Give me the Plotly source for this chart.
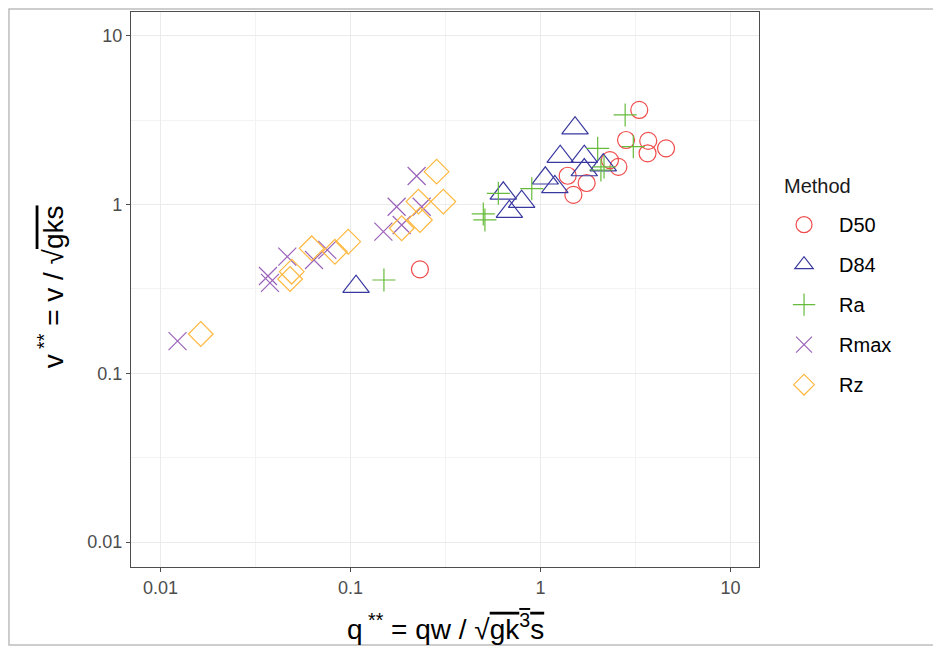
import plotly.graph_objects as go

# ---- data ----
d50_q = [3.31, 2.82, 3.69, 3.66, 4.58, 2.32, 2.57, 1.39, 1.75, 1.49, 0.232]
d50_v = [3.63, 2.41, 2.38, 2.01, 2.15, 1.83, 1.67, 1.48, 1.34, 1.14, 0.413]

d84_q = [1.52, 1.27, 1.70, 1.70, 2.14, 1.06, 1.19, 0.637, 0.796, 0.686, 0.107]
d84_v = [2.83, 1.92, 1.92, 1.60, 1.71, 1.43, 1.27, 1.165, 1.04, 0.906, 0.326]

ra_q = [2.79, 3.08, 2.00, 2.16, 2.08, 0.90, 0.60, 0.50, 0.51, 0.150]
ra_v = [3.39, 2.20, 2.15, 1.67, 1.60, 1.24, 1.165, 0.879, 0.81, 0.357]

rmax_q = [0.0123, 0.0368, 0.0377, 0.0465, 0.0643, 0.0755, 0.149, 0.186, 0.175, 0.237, 0.223]
rmax_v = [0.155, 0.377, 0.343, 0.491, 0.469, 0.538, 0.690, 0.756, 0.970, 0.970, 1.475]

rz_q = [0.0163, 0.0491, 0.0481, 0.0625, 0.0828, 0.0973, 0.186, 0.232, 0.228, 0.308, 0.284]
rz_v = [0.171, 0.400, 0.362, 0.550, 0.525, 0.602, 0.723, 0.809, 1.04, 1.04, 1.565]

methods = ["D50", "D84", "Ra", "Rmax", "Rz"]
tick_vals = [0.01, 0.1, 1, 10]
tick_text = ["0.01", "0.1", "1", "10"]
minor_vals = [10 ** (k + 0.5) for k in range(-3, 2)]

series = [
    (d50_q, d50_v, "circle-open", "#F04B4B", 17),
    (d84_q, d84_v, "triangle-up-open", "#3838A0", 23),
    (ra_q, ra_v, "cross-thin-open", "#66BB3C", 16.5),
    (rmax_q, rmax_v, "x-thin-open", "#9A62B8", 18),
    (rz_q, rz_v, "diamond-open", "#FFB83F", 19),
]

fig = go.Figure()
for name, (xs, ys, sym, col, sz) in zip(methods, series):
    fig.add_trace(go.Scatter(
        x=xs, y=ys, mode="markers", name=name, legendgroup=name,
        marker=dict(symbol=sym, size=sz, color=col, line=dict(color=col, width=1.2)),
    ))

font_fam = "Liberation Sans, Arial, sans-serif"

axis_common = dict(
    type="log",
    tickvals=tick_vals, ticktext=tick_text,
    ticks="outside", ticklen=4, tickcolor="#4D4D4D", tickwidth=1,
    showline=True, linecolor="#4D4D4D", linewidth=1.3, mirror=True,
    showgrid=True, gridcolor="#EBEBEB", gridwidth=1,
    zeroline=False,
    tickfont=dict(family=font_fam, size=18, color="#4D4D4D"),
    minor=dict(tickvals=minor_vals, showgrid=True, gridcolor="#F3F3F3", gridwidth=0.7, ticks=""),
)

fig.update_xaxes(range=[-2.155, 1.150], **axis_common)
fig.update_yaxes(range=[-2.147, 1.140], **axis_common)

fig.add_annotation(
    x=0.5, y=-0.108, xref="paper", yref="paper", xanchor="center", yanchor="middle",
    showarrow=False,
    text="q<sup> **</sup> = qw / √<span style='text-decoration:overline'>gk<sup>3</sup>s</span>",
    font=dict(family=font_fam, size=28, color="#000000"),
)
fig.add_annotation(
    x=-0.128, y=0.505, xref="paper", yref="paper", xanchor="center", yanchor="middle",
    showarrow=False, textangle=-90,
    text="v<sup> **</sup> = v / √<span style='text-decoration:overline'>gks</span>",
    font=dict(family=font_fam, size=28, color="#000000"),
)
fig.add_annotation(
    x=1.036, y=0.6865, xref="paper", yref="paper", xanchor="left", yanchor="middle",
    showarrow=False, text="Method",
    font=dict(family=font_fam, size=20, color="#1A1A1A"),
)

# outer frame
fig.add_shape(type="rect", xref="paper", yref="paper",
              x0=-0.1943, x1=1.2834, y0=-0.1405, y1=1.0054,
              line=dict(color="#BDBDBD", width=1.5), layer="below")

fig.update_layout(
    width=933, height=642,
    margin=dict(l=123, r=182, t=4, b=83),
    paper_bgcolor="white", plot_bgcolor="white",
    font=dict(family=font_fam, color="#000000"),
    legend=dict(
        x=1.016, y=0.652, xanchor="left", yanchor="top",
        font=dict(size=20, color="#000000"),
        tracegroupgap=11, traceorder="grouped", itemwidth=60,
        bgcolor="rgba(0,0,0,0)",
    ),
    showlegend=True,
)

fig.write_html("out.html")
